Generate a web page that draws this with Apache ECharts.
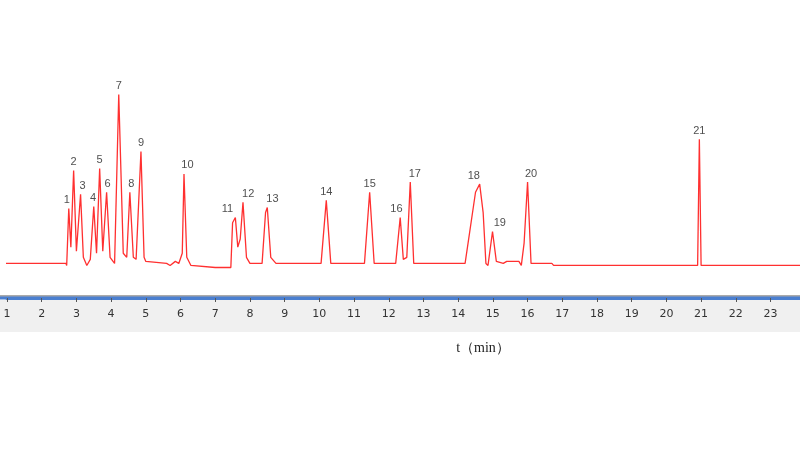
<!DOCTYPE html>
<html><head><meta charset="utf-8">
<script src="https://cdn.jsdelivr.net/npm/echarts@6/dist/echarts.min.js"></script>
<style>html,body{margin:0;background:#fff}#c{width:800px;height:450px}</style>
</head><body><div id="c"></div>
<script>
// chromatogram trace points [t (min), signal]
const trace = [[0.78,0],[2.7,0],[2.72,-1],[2.78,27],[2.84,8],[2.92,45.7],[3.0,6],[3.12,34],[3.2,3],[3.3,-1],[3.4,2],[3.5,28],[3.58,5],[3.67,46.7],[3.76,6],[3.87,35],[3.97,3],[4.1,0],[4.22,83],[4.35,5],[4.45,3],[4.54,35],[4.64,3],[4.72,2],[4.86,55],[4.95,3],[5.0,1],[5.6,0],[5.7,-1],[5.85,1],[5.95,0],[6.05,5],[6.1,44],[6.18,3],[6.3,-1],[7.0,-2],[7.45,-2],[7.5,20],[7.58,22.6],[7.65,8],[7.72,12],[7.8,30],[7.9,3],[8.0,0],[8.35,0],[8.45,25],[8.5,27.5],[8.6,3],[8.75,0],[10.05,0],[10.2,31],[10.33,0],[11.3,0],[11.45,35],[11.58,0],[12.2,0],[12.33,22.6],[12.42,2],[12.52,3],[12.62,40],[12.72,0],[14.2,0],[14.5,35],[14.62,39],[14.72,25],[14.8,0],[14.86,-1],[14.99,15.7],[15.1,1],[15.3,0],[15.4,1],[15.75,1],[15.82,-1],[15.9,10],[16.0,40],[16.1,0],[16.7,0],[16.75,-1],[20.9,-1],[20.95,61],[21.0,-1],[23.85,-1]];
const peakNames = ['1','2','3','4','5','6','7','8','9','10','11','12','13','14','15','16','17','18','19','20','21'];
const peakTimes = [2.72,2.92,3.18,3.48,3.67,3.9,4.22,4.58,4.86,6.2,7.35,7.95,8.65,10.2,11.45,12.22,12.75,14.45,15.2,16.1,20.95];
const peakHeights = [27,45.7,34,28,46.7,35,83,35,55,44,22.6,30,27.5,31,35,22.6,40,39,15.7,40,61];
const axisName = 't（min）';

const labels = peakNames.map((n,i)=>({value:[peakTimes[i],peakHeights[i]],name:n}));
const chart = echarts.init(document.getElementById('c'));
chart.setOption({
  animation:false,
  graphic:[{type:'rect',shape:{x:0,y:300,width:800,height:32},style:{fill:'#f0f0f0'},z:-1},
           {type:'line',shape:{x1:0,y1:296,x2:800,y2:296},style:{stroke:'#555',lineWidth:1}},
           {type:'line',shape:{x1:0,y1:298,x2:800,y2:298},style:{stroke:'#4a7fd0',lineWidth:3}},
           {type:'text',x:483,y:348,style:{text:axisName,fill:'#222',fontSize:14,fontFamily:'Liberation Serif',align:'center',verticalAlign:'middle'}}],
  grid:{left:7,right:0,top:60,bottom:152},
  xAxis:{type:'value',min:1,max:23.85,interval:1,
    axisLine:{show:true,onZero:false,lineStyle:{color:'#4a7fd0',width:3}},
    axisTick:{show:true,length:4,lineStyle:{color:'#555'}},
    axisLabel:{color:'#333',fontSize:11,margin:11,fontFamily:'DejaVu Sans',showMaxLabel:false},
    splitLine:{show:false}},
  yAxis:{type:'value',min:-17,max:100,show:false,splitLine:{show:false}},
  series:[
    {type:'line',data:trace,symbol:'none',clip:false,lineStyle:{color:'#ff3030',width:1.3},z:3},
    {type:'scatter',data:labels,symbolSize:0,silent:true,
     label:{show:true,formatter:p=>p.name,position:'top',distance:3,color:'#222',fontSize:11,fontFamily:'Liberation Sans'}}
  ]
});
</script></body></html>
